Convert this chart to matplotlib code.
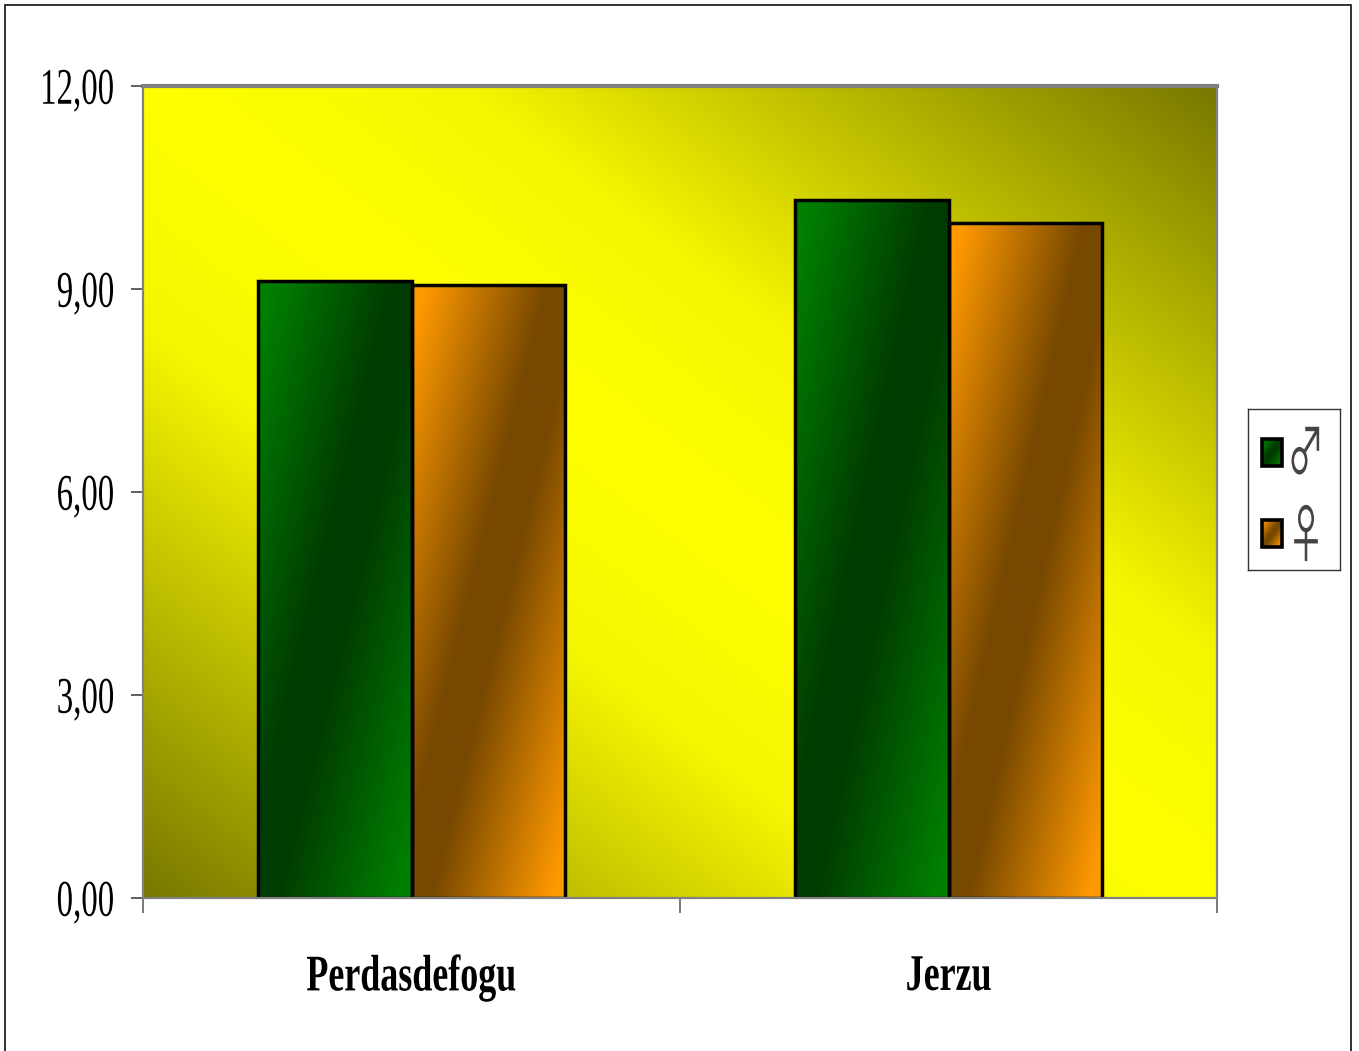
import numpy as np
import matplotlib
matplotlib.use('Agg')
import matplotlib.pyplot as plt
from matplotlib.colors import LinearSegmentedColormap
from matplotlib.patches import Rectangle
from matplotlib.patheffects import AbstractPathEffect
from matplotlib.transforms import Affine2D

towns = ['Perdasdefogu', 'Jerzu']
male = [9.12, 10.31]
female = [9.06, 9.97]
yticks = [0, 3, 6, 9, 12]
ylabels = ['0,00', '3,00', '6,00', '9,00', '12,00']
legend_labels = ['\u2642', '\u2640']

W, H = 1359, 1051
bar_w = 0.2865
green = ('#008000', '#003c00')
orange = ('#ff9900', '#774800')

plt.rcParams['font.family'] = ['Liberation Serif', 'DejaVu Sans']


class Squish(AbstractPathEffect):
    # the reference text is a horizontally squeezed Times
    def __init__(self, sx, anchor='center'):
        super().__init__()
        self.sx = sx
        self.anchor = anchor

    def draw_path(self, renderer, gc, tpath, affine, rgbFace=None):
        ext = tpath.get_extents()
        x0 = ext.x1 if self.anchor == 'right' else (ext.x0 + ext.x1) / 2
        a = Affine2D().translate(-x0, 0).scale(self.sx, 1).translate(x0, 0) + affine
        renderer.draw_path(gc, tpath, a, rgbFace)


def px_box(x0, y0, x1, y1):
    return [x0 / W, 1 - y1 / H, (x1 - x0) / W, (y1 - y0) / H]


def diag(n=300):
    # u along x, v up the image
    u, v = np.meshgrid(np.linspace(0, 1, n), np.linspace(1, 0, n))
    return u, v


def shade(colors):
    bright, dark = colors
    return LinearSegmentedColormap.from_list('b', [(0, bright), (0.04, bright), (0.44, dark),
                                                   (0.56, dark), (0.96, bright), (1, bright)])


def bar_gradient(ax, bar, colors):
    u, v = diag()
    x, w, h = bar.get_x(), bar.get_width(), bar.get_height()
    ax.imshow((u - v + 1) / 2, cmap=shade(colors), vmin=0, vmax=1, aspect='auto',
              extent=(x, x + w, 0, h), zorder=2, interpolation='bilinear')


fig = plt.figure(figsize=(W / 100, H / 100), dpi=100, facecolor='white')
fig.patches.append(Rectangle((5 / W, -0.02), 1346 / W, 1.02 - 4.5 / H, transform=fig.transFigure,
                             fc='none', ec='#222222', lw=1.3))

ax = fig.add_axes(px_box(143, 86, 1217, 898))

# plot area background
bg = LinearSegmentedColormap.from_list('bg', [(0, '#787800'), (0.2, '#c0c000'), (0.35, '#f5f500'), (0.5, '#ffff00'),
                                              (0.65, '#f5f500'), (0.8, '#c0c000'), (1, '#787800')])
u, v = diag(500)
ax.imshow((u + v) / 2, cmap=bg, vmin=0, vmax=1, aspect='auto', transform=ax.transAxes,
          extent=(0, 1, 0, 1), zorder=0, interpolation='bilinear')

x = np.arange(len(towns))
b1 = ax.bar(x - bar_w / 2, male, bar_w, fc='none', ec='black', lw=2.5, zorder=3)
b2 = ax.bar(x + bar_w / 2, female, bar_w, fc='none', ec='black', lw=2.5, zorder=3)
for b in b1:
    bar_gradient(ax, b, green)
for b in b2:
    bar_gradient(ax, b, orange)

ax.set_xlim(-0.5, 1.5)
ax.set_ylim(0, 12)
ax.set_yticks(yticks)
ax.set_yticklabels(ylabels, fontsize=37)
ax.set_xticks([-0.5, 0.5, 1.5])
ax.set_xticklabels([])
ax.set_xticks(x, towns, minor=True, fontsize=37, fontweight='bold')
ax.tick_params(axis='x', which='minor', length=0, pad=41)
ax.tick_params(axis='x', which='major', length=11, width=1.1, color='#555555')
ax.tick_params(axis='y', length=8.6, width=1.1, color='#333333', pad=11.5)
for t in ax.get_yticklabels():
    t.set_path_effects([Squish(0.64, 'right')])
for t in ax.get_xticklabels(minor=True):
    t.set_path_effects([Squish(0.7)])

for s in ax.spines.values():
    s.set_color('#808080')
    s.set_linewidth(1.6)
    s.set_zorder(4)
ax.spines['top'].set_linewidth(3)

# legend box
lg = fig.add_axes(px_box(1248, 409, 1340, 570))
lg.set_xticks([])
lg.set_yticks([])
for s in lg.spines.values():
    s.set_color('#333333')
    s.set_linewidth(1)
swatch_tops = [439, 520]
glyph_y = [456, 539]
for y0, gy, colors, lab in zip(swatch_tops, glyph_y, [green, orange], legend_labels):
    u, v = diag(40)
    lg.imshow((u - v + 1) / 2, cmap=shade(colors), vmin=0, vmax=1, aspect='auto',
              extent=(1262, 1282, y0 + 27, y0), interpolation='bilinear', zorder=1)
    lg.add_patch(Rectangle((1262, y0), 20, 27, fc='none', ec='black', lw=2.6, zorder=2))
    t = lg.text(1306, gy, lab, ha='center', va='center', fontsize=46,
                family=['Noto Sans CJK JP', 'DejaVu Sans'], color='#444444')
    t.set_path_effects([Squish(0.58)])
lg.set_xlim(1248, 1340)
lg.set_ylim(570, 409)

fig.savefig('out.png', dpi=100)
